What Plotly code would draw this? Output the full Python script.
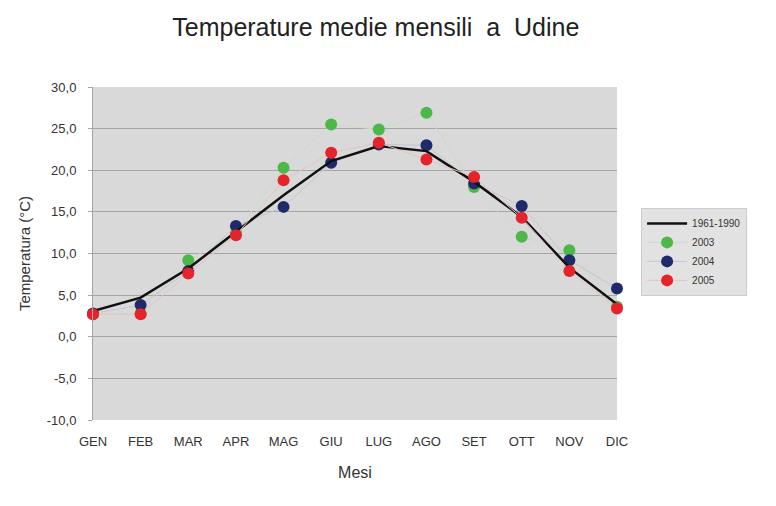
import plotly.graph_objects as go

months = ["GEN", "FEB", "MAR", "APR", "MAG", "GIU", "LUG", "AGO", "SET", "OTT", "NOV", "DIC"]
normal_1961_1990 = [3.1, 4.7, 8.2, 12.6, 17.0, 21.1, 22.9, 22.3, 18.6, 14.4, 8.3, 3.9]
y2003 = [2.7, 2.8, 9.2, 12.5, 20.3, 25.5, 24.9, 26.9, 18.0, 12.0, 10.4, 3.6]
y2004 = [2.8, 3.8, 7.9, 13.3, 15.6, 20.9, 23.1, 23.0, 18.4, 15.7, 9.2, 5.8]
y2005 = [2.7, 2.7, 7.6, 12.2, 18.8, 22.1, 23.3, 21.3, 19.2, 14.3, 7.9, 3.4]

y_ticks = [30, 25, 20, 15, 10, 5, 0, -5, -10]
y_tick_text = ["30,0", "25,0", "20,0", "15,0", "10,0", "5,0", "0,0", "-5,0", "-10,0"]

fig = go.Figure()

series = [("2003", y2003, "#4cb848", "#c9dcc4", 2),
          ("2004", y2004, "#1f2a6b", "#c4c6d2", 3)]
for name, vals, col, lcol, rank in series:
    fig.add_trace(go.Scatter(
        x=months, y=vals, name=name, mode="lines+markers",
        line=dict(color=lcol, width=1),
        marker=dict(color=col, size=12, line=dict(width=0)),
        cliponaxis=False, legendrank=rank,
    ))
fig.add_trace(go.Scatter(
    x=months, y=normal_1961_1990, name="1961-1990", mode="lines",
    line=dict(color="#111111", width=2.5), cliponaxis=False, legendrank=1,
))
fig.add_trace(go.Scatter(
    x=months, y=y2005, name="2005", mode="lines+markers",
    line=dict(color="#e6c3c3", width=1),
    marker=dict(color="#e5232a", size=12, line=dict(width=0)),
    cliponaxis=False, legendrank=4,
))

fig.update_layout(
    width=776, height=506,
    paper_bgcolor="white", plot_bgcolor="#d9d9d9",
    margin=dict(l=85, r=167, t=79, b=94),
    font=dict(family="Liberation Sans, Arial, sans-serif", color="#333333", size=11),
    title=dict(text="Temperature medie mensili  a  Udine", x=0.474, xanchor="center",
               y=0.9625, yanchor="middle", font=dict(size=25, color="#222222")),
    showlegend=True,
    legend=dict(x=1.046, xanchor="left", y=0.637, yanchor="top",
                bgcolor="#e2e2e2", bordercolor="#cccccc", borderwidth=1,
                font=dict(size=10, color="#333333"), traceorder="normal",
                itemwidth=40, tracegroupgap=0),
    xaxis=dict(type="category", categoryorder="array", categoryarray=months,
               range=[0, 11], showgrid=False, zeroline=False, automargin=False,
               showline=False, ticks="", tickfont=dict(size=13, color="#333333"),
               ticklabelstandoff=12,
               title=dict(text="Mesi", font=dict(size=16, color="#333333"), standoff=18)),
    yaxis=dict(range=[-10, 30], tickvals=y_ticks, ticktext=y_tick_text, automargin=False,
               showgrid=True, gridcolor="#a6a6a6", gridwidth=1,
               zeroline=True, zerolinecolor="#a6a6a6", zerolinewidth=1,
               showline=True, linecolor="#a6a6a6", linewidth=1,
               ticks="outside", ticklen=4, tickcolor="#a6a6a6",
               tickfont=dict(size=13, color="#333333"), ticklabelstandoff=9,
               title=dict(text="Temperatura (°C)", font=dict(size=15, color="#333333"), standoff=12)),
)

fig.write_html("out.html")
